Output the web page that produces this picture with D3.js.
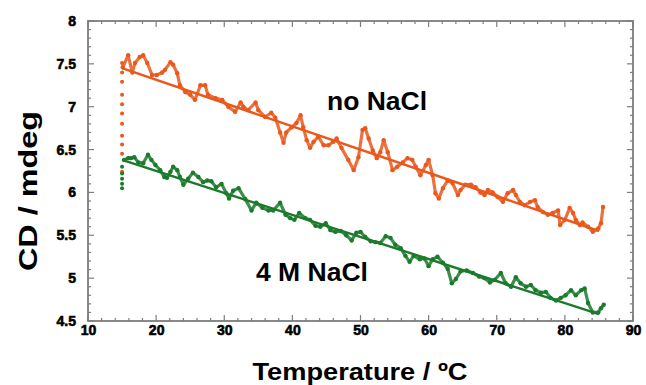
<!DOCTYPE html>
<html><head><meta charset="utf-8">
<script src="https://cdn.jsdelivr.net/npm/d3@7/dist/d3.min.js"></script>
<style>body{margin:0;background:#fff}svg{display:block;font-family:"Liberation Sans",Arial,sans-serif}</style>
</head><body><svg id="c" width="646" height="385"></svg>
<script>
const xTicks = [10,20,30,40,50,60,70,80,90];
const yTicks = [4.5,5,5.5,6,6.5,7,7.5,8];
const yTickLabels = ["4.5","5","5.5","6","6.5","7","7.5","8"];

// equilibration points at the start temperature
const startT = 15;
const orangeStartCD = [6.24,6.45,6.56,6.66,6.80,6.92,7.03,7.14,7.29,7.40,7.51];
const greenStartCD = [6.05,6.10,6.16,6.22,6.30];

const orangeT = [15.1,15.9,16.5,16.9,17.6,18.1,18.7,19.4,20.1,20.9,21.3,22.1,22.5,23.1,23.5,24.3,25.0,25.7,26.5,27.2,27.6,28.7,29.7,30.6,31.6,32.4,32.8,33.5,34.6,35.0,36.0,36.9,37.5,38.2,38.7,39.1,39.9,40.6,41.2,41.6,42.1,42.6,43.1,43.8,44.6,45.3,46.0,46.5,47.2,48.2,49.0,49.7,50.3,50.7,51.2,51.8,52.4,52.9,53.4,54.0,54.7,55.4,56.2,56.9,57.6,58.1,58.8,59.6,60.0,60.6,61.0,61.5,62.1,62.8,63.5,64.3,64.7,65.4,66.2,66.9,67.6,68.2,68.7,69.4,70.1,70.9,71.6,72.4,72.8,73.4,74.1,74.9,75.6,76.0,76.8,77.5,78.2,79.0,79.3,80.0,80.7,81.2,81.6,82.2,82.6,83.4,84.1,84.9,85.3,85.6];
const orangeCD = [7.46,7.60,7.40,7.51,7.58,7.60,7.51,7.37,7.37,7.40,7.43,7.52,7.49,7.39,7.25,7.17,7.14,7.08,7.25,7.25,7.14,7.10,7.08,7.00,6.94,7.05,7.00,6.96,7.05,6.96,6.88,6.93,6.87,6.70,6.58,6.70,6.76,6.81,6.90,6.76,6.61,6.52,6.59,6.65,6.55,6.55,6.59,6.63,6.52,6.38,6.26,6.41,6.73,6.75,6.63,6.49,6.40,6.47,6.61,6.47,6.26,6.30,6.35,6.40,6.38,6.30,6.20,6.32,6.38,6.20,5.99,5.93,6.05,6.14,6.11,5.97,6.03,6.09,6.09,6.06,6.00,5.97,6.03,6.00,5.95,5.89,5.99,6.03,5.97,5.89,5.85,5.89,5.91,5.83,5.77,5.74,5.76,5.79,5.62,5.68,5.82,5.76,5.68,5.62,5.65,5.60,5.54,5.58,5.64,5.83];

const greenT = [15.3,15.9,16.3,16.8,17.4,18.1,18.8,19.3,19.9,20.6,21.2,21.6,22.1,22.5,23.1,23.5,24.0,24.7,25.4,26.2,26.9,27.5,28.1,28.8,29.6,30.3,30.7,31.3,32.1,33.1,34.0,34.7,35.6,36.5,37.2,38.2,39.0,39.7,40.3,41.0,41.9,42.6,43.4,44.1,44.9,45.6,46.3,47.1,47.9,48.7,49.4,50.0,50.7,51.5,52.2,52.9,53.7,54.4,55.1,55.9,56.6,57.2,57.8,58.7,59.4,60.0,60.6,61.3,62.1,62.8,63.4,64.0,64.7,65.6,66.5,67.4,68.2,69.0,69.7,70.6,71.3,72.1,72.8,73.5,74.3,75.0,75.7,76.5,77.2,77.9,78.7,79.4,80.1,80.9,81.6,82.4,82.9,83.4,84.1,84.9,85.3,85.7];
const greenCD = [6.38,6.40,6.40,6.41,6.35,6.34,6.44,6.38,6.32,6.26,6.18,6.17,6.24,6.30,6.26,6.18,6.09,6.16,6.23,6.18,6.12,6.14,6.13,6.06,6.10,5.99,5.93,6.02,6.05,5.92,5.79,5.88,5.82,5.79,5.79,5.88,5.74,5.70,5.68,5.76,5.70,5.68,5.61,5.60,5.64,5.56,5.54,5.55,5.50,5.44,5.53,5.54,5.48,5.43,5.42,5.41,5.49,5.47,5.39,5.35,5.26,5.19,5.26,5.22,5.23,5.14,5.22,5.25,5.18,5.11,4.94,4.99,5.08,5.09,5.06,5.02,5.00,4.95,4.98,5.06,4.94,4.90,5.01,4.94,4.90,4.92,4.86,4.83,4.84,4.77,4.74,4.77,4.80,4.86,4.80,4.86,4.88,4.71,4.60,4.60,4.65,4.69];

const fitT = [15, 85];
const orangeFit = [7.45, 5.55];
const greenFit = [6.38, 4.58];

const ORANGE = "#e9581c", GREEN = "#1b7a2b", FRAME = "#7d7d7d";

const svg = d3.select("#c");
const L = 88, R = 633, T = 21, B = 321;
const x = d3.scaleLinear().domain([10, 90]).range([L, R]);
const y = d3.scaleLinear().domain([4.5, 8]).range([B, T]);

// ticks (inward, all four sides)
const xMinor = d3.range(10, 90.01, 2);
const yMinor = d3.range(45, 80.01, 1).map(d => d / 10);
const tk = svg.append("g").attr("stroke", FRAME).attr("stroke-width", 1.2);
xMinor.forEach(v => {
  const major = Math.abs(v % 10) < 1e-6;
  const len = major ? 6 : 3;
  tk.append("line").attr("x1", x(v)).attr("x2", x(v)).attr("y1", B).attr("y2", B - len);
  tk.append("line").attr("x1", x(v)).attr("x2", x(v)).attr("y1", T).attr("y2", T + len);
});
yMinor.forEach(v => {
  const major = Math.abs((v * 10) % 5) < 1e-6;
  const len = major ? 6 : 3;
  tk.append("line").attr("y1", y(v)).attr("y2", y(v)).attr("x1", L).attr("x2", L + len);
  tk.append("line").attr("y1", y(v)).attr("y2", y(v)).attr("x1", R).attr("x2", R - len);
});
svg.append("rect").attr("x", L).attr("y", T).attr("width", R - L).attr("height", B - T)
  .attr("fill", "none").attr("stroke", FRAME).attr("stroke-width", 1.8);

// tick labels via axis generators
const xAxis = svg.append("g").attr("transform", `translate(0,${B})`)
  .call(d3.axisBottom(x).tickValues(xTicks).tickSize(0).tickPadding(4).tickFormat(d3.format("d")));
const yAxis = svg.append("g").attr("transform", `translate(${L},0)`)
  .call(d3.axisLeft(y).tickValues(yTicks).tickSize(0).tickPadding(12).tickFormat((d, i) => yTickLabels[i]));
[xAxis, yAxis].forEach(a => {
  a.attr("font-size", null).attr("font-family", null);
  a.select(".domain").remove();
  a.selectAll("text").attr("fill", "#000").attr("stroke", "#000").attr("stroke-width", 0.6)
    .style("font-size", "14px").style("font-weight", "bold")
    .style("font-family", "'Liberation Sans', Arial, sans-serif");
});

// fit lines
const line = d3.line().x(d => x(d[0])).y(d => y(d[1]));
svg.append("path").attr("d", line(fitT.map((t, i) => [t, orangeFit[i]])))
  .attr("stroke", ORANGE).attr("stroke-width", 2.4).attr("fill", "none");
svg.append("path").attr("d", line(fitT.map((t, i) => [t, greenFit[i]])))
  .attr("stroke", GREEN).attr("stroke-width", 2.4).attr("fill", "none");

// data series
function series(ts, vs, starts, col) {
  const pts = ts.map((t, i) => [t, vs[i]]);
  svg.append("path").attr("d", line(pts)).attr("stroke", col).attr("stroke-width", 3.2)
    .attr("fill", "none").attr("stroke-linejoin", "round").attr("opacity", 0.85);
  svg.append("g").selectAll("circle").data(pts).join("circle")
    .attr("cx", d => x(d[0])).attr("cy", d => y(d[1])).attr("r", 2.2).attr("fill", col);
  svg.append("g").selectAll("circle").data(starts).join("circle")
    .attr("cx", x(startT)).attr("cy", d => y(d)).attr("r", 2).attr("fill", col);
}
series(orangeT, orangeCD, orangeStartCD, ORANGE);
series(greenT, greenCD, greenStartCD, GREEN);

// annotations
svg.append("text").attr("x", 327).attr("y", 110).attr("font-size", 25).attr("font-weight", "bold")
  .attr("textLength", 100).attr("lengthAdjust", "spacingAndGlyphs").text("no NaCl");
svg.append("text").attr("x", 256).attr("y", 281).attr("font-size", 25).attr("font-weight", "bold")
  .attr("textLength", 112).attr("lengthAdjust", "spacingAndGlyphs").text("4 M NaCl");

// axis titles
svg.append("text").attr("x", 360).attr("y", 380).attr("text-anchor", "middle")
  .attr("font-size", 24).attr("font-weight", "bold")
  .attr("textLength", 215).attr("lengthAdjust", "spacingAndGlyphs").text("Temperature / ºC");
svg.append("text").attr("transform", "translate(37,191) rotate(-90)").attr("text-anchor", "middle")
  .attr("font-size", 26).attr("font-weight", "bold")
  .attr("textLength", 160).attr("lengthAdjust", "spacingAndGlyphs").text("CD / mdeg");
</script></body></html>
